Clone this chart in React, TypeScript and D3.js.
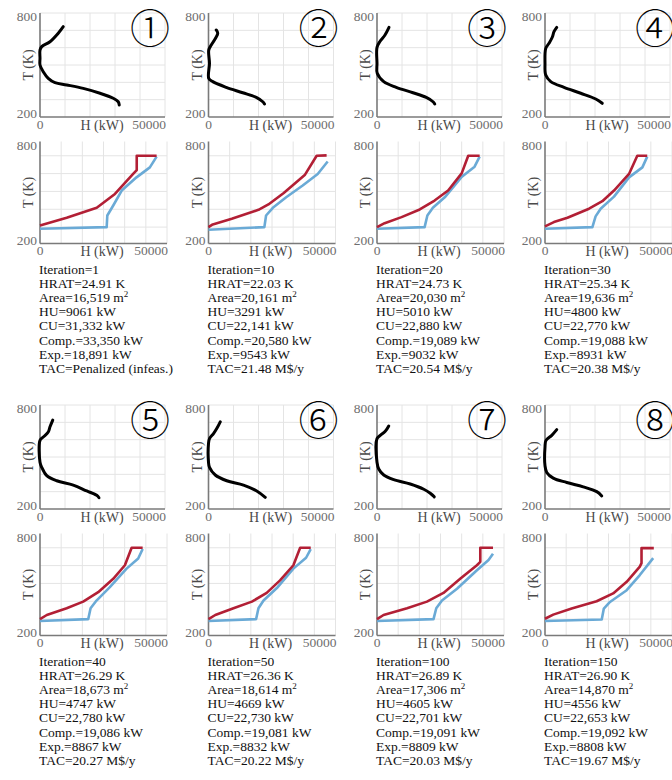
import React from "react";
import * as d3 from "d3";

type Pt = [number, number];

// panel labels and the numbers printed under each panel
const panelLabels = ["①", "②", "③", "④", "⑤", "⑥", "⑦", "⑧"];
const iterations = [1, 10, 20, 30, 40, 50, 100, 150];
const hratK = [24.91, 22.03, 24.73, 25.34, 26.29, 26.36, 26.89, 26.9];
const areaM2 = [16519, 20161, 20030, 19636, 18673, 18614, 17306, 14870];
const huKW = [9061, 3291, 5010, 4800, 4747, 4669, 4605, 4556];
const cuKW = [31332, 22141, 22880, 22770, 22780, 22730, 22701, 22653];
const compKW = [33350, 20580, 19089, 19088, 19086, 19081, 19091, 19092];
const expKW = [18891, 9543, 9032, 8931, 8867, 8832, 8809, 8808];
const tacText = [
  "Penalized (infeas.)",
  "21.48 M$/y",
  "20.54 M$/y",
  "20.38 M$/y",
  "20.27 M$/y",
  "20.22 M$/y",
  "20.03 M$/y",
  "19.67 M$/y",
];

// grand composite curves (H kW, T K)
const gccCurves: Pt[][] = [
  [[9300, 721], [7300, 683], [4000, 634], [700, 606], [0, 586], [0, 539], [0, 500], [1300, 461], [3300, 423], [6000, 398], [10700, 385], [17300, 365], [24000, 337], [29300, 308], [31300, 288], [31700, 269]],
  [[3100, 702], [3700, 683], [2800, 654], [1100, 615], [100, 586], [400, 510], [100, 423], [1700, 404], [7100, 371], [13700, 340], [19100, 313], [21700, 288], [22400, 275]],
  [[4800, 717], [3200, 673], [1100, 634], [0, 602], [0, 510], [100, 452], [2700, 404], [7700, 371], [14400, 340], [19700, 313], [22400, 288], [23100, 275]],
  [[4700, 717], [3600, 692], [2900, 660], [1600, 625], [300, 596], [0, 510], [300, 442], [2300, 404], [7600, 371], [14300, 337], [20300, 304], [22900, 279]],
  [[5100, 713], [4000, 674], [3300, 644], [1300, 615], [0, 596], [0, 470], [700, 440], [2700, 392], [6700, 363], [13300, 338], [18700, 304], [22700, 279], [23600, 265]],
  [[4700, 703], [3300, 664], [2000, 635], [400, 606], [0, 577], [0, 470], [400, 440], [2700, 396], [7300, 363], [14000, 338], [19300, 304], [22700, 267]],
  [[4700, 679], [3300, 648], [1300, 625], [0, 606], [0, 470], [700, 431], [2700, 396], [6700, 369], [13300, 344], [18700, 314], [21300, 291], [22900, 270]],
  [[4700, 658], [2700, 625], [400, 596], [0, 557], [0, 450], [700, 411], [3300, 378], [8700, 353], [15300, 328], [20700, 300], [22700, 275]],
];

// hot composite curves (red)
const hotCurves: Pt[][] = [
  [[0, 309], [12600, 352], [26800, 408], [35400, 486], [44000, 598], [45700, 620], [45700, 700], [55100, 700]],
  [[0, 300], [2000, 315], [11000, 347], [23600, 397], [28300, 427], [35400, 490], [45600, 594], [51100, 700], [55800, 702]],
  [[0, 300], [3600, 322], [11600, 356], [20200, 399], [27200, 449], [33600, 505], [40000, 601], [43100, 700], [48500, 700]],
  [[0, 304], [4200, 328], [10600, 352], [20800, 403], [27100, 445], [32600, 505], [39700, 598], [43600, 700], [48300, 700]],
  [[0, 300], [3200, 323], [12600, 361], [20400, 398], [27500, 451], [34600, 526], [40100, 602], [43300, 700], [48500, 700]],
  [[0, 300], [3200, 323], [11800, 361], [20500, 398], [27500, 447], [33800, 517], [40100, 602], [43300, 700], [48300, 700]],
  [[0, 300], [3100, 323], [14200, 361], [23600, 398], [31400, 447], [39300, 526], [47200, 602], [48800, 621], [48800, 700], [54800, 700]],
  [[0, 302], [3900, 325], [12600, 359], [24400, 400], [32200, 444], [38600, 509], [44800, 594], [45600, 614], [45600, 698], [51400, 698]],
];

// cold composite curves (blue)
const coldCurves: Pt[][] = [
  [[0, 291], [31500, 300], [31800, 365], [34600, 421], [38600, 505], [45600, 579], [51900, 635], [55100, 695]],
  [[0, 285], [26400, 300], [27200, 365], [30400, 408], [36700, 467], [44500, 533], [51600, 598], [56300, 668]],
  [[0, 291], [22500, 300], [23800, 365], [26400, 408], [32000, 467], [39800, 579], [46100, 639], [48500, 695]],
  [[0, 291], [22400, 300], [23900, 360], [26300, 403], [32600, 471], [39700, 579], [46000, 635], [48300, 695]],
  [[0, 289], [22800, 300], [23900, 361], [26700, 404], [33000, 479], [40900, 583], [46400, 640], [48500, 693]],
  [[0, 289], [22500, 300], [23600, 361], [26000, 404], [32300, 474], [40100, 583], [46100, 644], [48300, 693]],
  [[0, 289], [26700, 300], [28000, 361], [30700, 404], [37800, 470], [47200, 574], [52700, 631], [54800, 666]],
  [[0, 289], [26800, 298], [27800, 359], [30700, 396], [38600, 462], [44800, 547], [51100, 642]],
];

const xTickLabels = ["0", "50000"];
const yTickLabels = ["200", "800"];

const W = 672;
const H = 780;
const colX = [40, 208.5, 377, 545];
const rowOffset = [0, 392];
const serif = "'Liberation Serif', 'Times New Roman', serif";
const tickColor = "#6e6e6e";
const gridColor = "#e4e4e4";
const axisColor = "#7a7a7a";
const red = "#b21f35";
const blue = "#6aaad6";

const fmt = (n: number) => (n >= 10000 ? d3.format(",")(n) : String(n));

function Axes({ x0, top, h, w, xs, ys, xScale, yScale }: any) {
  const bottom = top + h;
  return (
    <g>
      {xs.map((v: number) => (
        <line key={"gx" + v} x1={xScale(v)} x2={xScale(v)} y1={top} y2={bottom} stroke={gridColor} strokeWidth={1} />
      ))}
      {ys.map((v: number) => (
        <line key={"gy" + v} x1={x0} x2={x0 + w} y1={yScale(v)} y2={yScale(v)} stroke={gridColor} strokeWidth={1} />
      ))}
      <line x1={x0} x2={x0} y1={top} y2={bottom} stroke={axisColor} strokeWidth={1.6} />
      <line x1={x0} x2={x0 + w} y1={bottom} y2={bottom} stroke={axisColor} strokeWidth={1.6} />
      <g fontFamily={serif} fontSize={13.5} fill={tickColor}>
        <text x={x0 - 3} y={top + 8} textAnchor="end">{yTickLabels[1]}</text>
        <text x={x0 - 3} y={bottom + 1} textAnchor="end">{yTickLabels[0]}</text>
        <text x={x0} y={bottom + 11.5} textAnchor="middle">{xTickLabels[0]}</text>
        <text x={x0 + w + 1} y={bottom + 11.5} textAnchor="end">{xTickLabels[1]}</text>
      </g>
      <g fontFamily={serif} fontSize={14} fill="#4a4a4a">
        <text x={x0 + 62} y={bottom + 12.5} textAnchor="middle">H (kW)</text>
        <text transform={`translate(${x0 - 7},${top + h / 2}) rotate(-90)`} textAnchor="middle">T (K)</text>
      </g>
    </g>
  );
}

function Panel({ i }: { i: number }) {
  const x0 = colX[i % 4];
  const dy = rowOffset[Math.floor(i / 4)];

  // top plot: grand composite curve
  const tTop = 13 + dy;
  const tH = 104;
  const tW = 125;
  const xTop = d3.scaleLinear().domain([0, 50000]).range([x0, x0 + tW]);
  const yTop = d3.scaleLinear().domain([200, 800]).range([tTop + tH, tTop]);
  const gccLine = d3
    .line<Pt>()
    .x((d) => xTop(d[0]))
    .y((d) => yTop(d[1]))
    .curve(d3.curveCatmullRom.alpha(0.5));

  // bottom plot: composite curves
  const bTop = 141.5 + dy;
  const bH = 102;
  const bW = 127;
  const xBot = d3.scaleLinear().domain([0, 60000]).range([x0, x0 + bW]);
  const yBot = d3.scaleLinear().domain([208, 780]).range([bTop + bH, bTop]);
  const compLine = d3
    .line<Pt>()
    .x((d) => xBot(d[0]))
    .y((d) => yBot(d[1]))
    .curve(d3.curveLinear);

  const lines = [
    `Iteration=${iterations[i]}`,
    `HRAT=${hratK[i].toFixed(2)} K`,
    null,
    `HU=${fmt(huKW[i])} kW`,
    `CU=${fmt(cuKW[i])} kW`,
    `Comp.=${fmt(compKW[i])} kW`,
    `Exp.=${fmt(expKW[i])} kW`,
    `TAC=${tacText[i]}`,
  ];
  const textTop = 274 + dy;
  const gap = 14.1;

  return (
    <g>
      <Axes
        x0={x0}
        top={tTop}
        h={tH}
        w={tW}
        xs={d3.range(10000, 50001, 10000)}
        ys={d3.range(300, 801, 100)}
        xScale={xTop}
        yScale={yTop}
      />
      <path d={gccLine(gccCurves[i]) || ""} fill="none" stroke="#000" strokeWidth={3} strokeLinecap="round" strokeLinejoin="round" />
      <text
        x={x0 + 110}
        y={tTop + 16}
        textAnchor="middle"
        dominantBaseline="central"
        fontFamily="'DejaVu Serif', 'Noto Sans CJK JP', serif"
        fontSize={40}
        fontWeight={300}
        fill="#000"
      >
        {panelLabels[i]}
      </text>

      <Axes
        x0={x0}
        top={bTop}
        h={bH}
        w={bW}
        xs={d3.range(10000, 60001, 10000)}
        ys={d3.range(300, 701, 100)}
        xScale={xBot}
        yScale={yBot}
      />
      <path d={compLine(coldCurves[i]) || ""} fill="none" stroke={blue} strokeWidth={2.6} strokeLinejoin="round" />
      <path d={compLine(hotCurves[i]) || ""} fill="none" stroke={red} strokeWidth={2.6} strokeLinejoin="round" />

      <g fontFamily={serif} fontSize={13.5} fill="#111">
        {lines.map((s, k) =>
          s !== null ? (
            <text key={k} x={x0 - 1} y={textTop + k * gap}>{s}</text>
          ) : (
            <text key={k} x={x0 - 1} y={textTop + k * gap}>
              {`Area=${fmt(areaM2[i])} m`}
              <tspan fontSize={9} dy={-5}>2</tspan>
            </text>
          )
        )}
      </g>
    </g>
  );
}

export default function App() {
  return (
    <svg
      width={W}
      height={H}
      viewBox={`0 0 ${W} ${H}`}
      style={{ position: "absolute", left: 0, top: 0, background: "#fff" }}
    >
      <rect width={W} height={H} fill="#fff" />
      {d3.range(8).map((i) => (
        <Panel key={i} i={i} />
      ))}
    </svg>
  );
}
